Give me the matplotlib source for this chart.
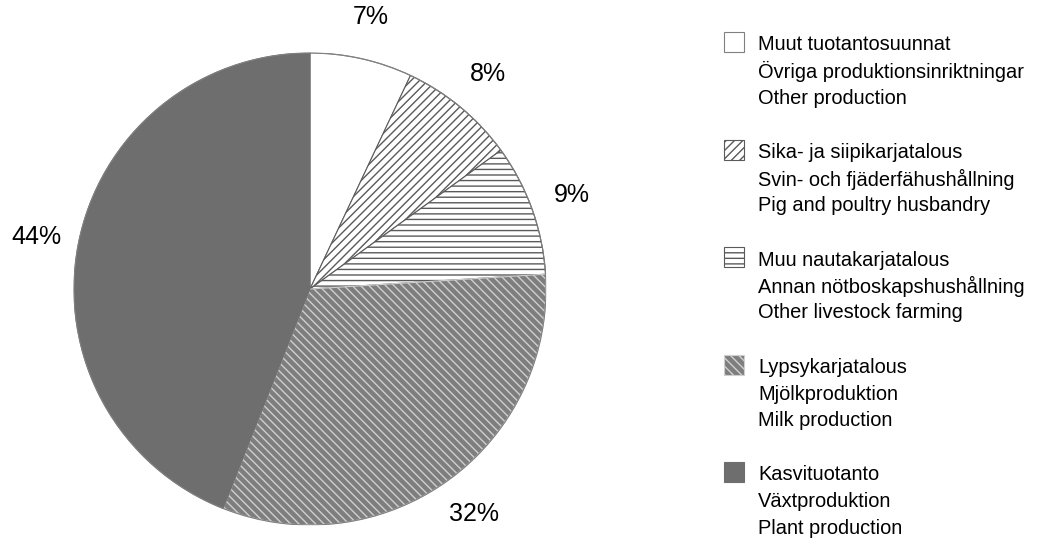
import matplotlib.pyplot as plt
from matplotlib.patches import Rectangle

plt.rcParams['font.family'] = ['Liberation Sans', 'DejaVu Sans']
plt.rcParams['hatch.linewidth'] = 1.0

# shares in percent, clockwise from 12 o'clock
shares = [7, 8, 9, 32, 44]
labels_fi = ["Muut tuotantosuunnat", "Sika- ja siipikarjatalous", "Muu nautakarjatalous",
             "Lypsykarjatalous", "Kasvituotanto"]
labels_sv = ["Övriga produktionsinriktningar", "Svin- och fjäderfähushållning",
             "Annan nötboskapshushållning", "Mjölkproduktion", "Växtproduktion"]
labels_en = ["Other production", "Pig and poultry husbandry", "Other livestock farming",
             "Milk production", "Plant production"]

faces = ["white", "white", "white", "#7e7e7e", "#6e6e6e"]
edges = ["#808080", "#5a5a5a", "#5a5a5a", "#cfcfcf", "#6e6e6e"]
hatches = [None, "////", "---", "\\\\\\\\", None]

W, H = 1041, 539
fig = plt.figure(figsize=(W / 100, H / 100), dpi=100)

# pie centre at about (310, 289) px, radius 236 px
cx, cy, r = 310, 289, 236
ax = fig.add_axes([(cx - r) / W, (H - cy - r) / H, 2 * r / W, 2 * r / H])
wedges, _, pcts = ax.pie(shares, startangle=90, counterclock=False,
                         autopct=lambda p: f"{p:.0f}%", pctdistance=1.18,
                         wedgeprops=dict(linewidth=0.8),
                         textprops=dict(fontsize=18))
for w, fc, ec, h in zip(wedges, faces, edges, hatches):
    w.set_facecolor(fc)
    w.set_edgecolor(ec)
    if h:
        w.set_hatch(h)
# thin grey outline round the whole pie
ax.add_patch(plt.Circle((0, 0), 1, fill=False, edgecolor="#808080", linewidth=0.8))
ax.set_xlim(-1, 1)
ax.set_ylim(-1, 1)
ax.set_aspect("equal")
ax.axis("off")

# legend drawn by hand
y0, group_gap, line_gap = 45, 107.5, 26.5
for i in range(len(shares)):
    y = y0 + i * group_gap
    box = Rectangle((724 / W, 1 - (y + 7) / H), 20 / W, 20 / H,
                    transform=fig.transFigure, facecolor=faces[i],
                    edgecolor=edges[i], hatch=hatches[i], linewidth=0.8)
    fig.add_artist(box)
    for j, txt in enumerate([labels_fi[i], labels_sv[i], labels_en[i]]):
        fig.text(758 / W, 1 - (y + j * line_gap) / H, txt, fontsize=14.4,
                 va="center", ha="left")

fig.savefig("out.png", dpi=100)
